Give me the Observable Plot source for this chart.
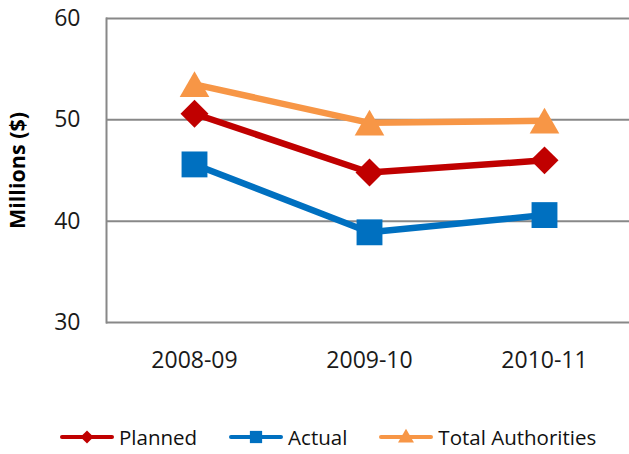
<!DOCTYPE html>
<html>
<head>
<meta charset="utf-8">
<script src="https://cdn.jsdelivr.net/npm/d3@7"></script>
<script src="https://cdn.jsdelivr.net/npm/@observablehq/plot@0.6"></script>
<style>
  html, body { margin: 0; padding: 0; background: #fff; }
  body { width: 629px; height: 454px; overflow: hidden; font-family: "Open Sans", sans-serif; }
  #chart svg { display: block; overflow: visible; }
  .legend { display: flex; align-items: center; padding-left: 60px; margin-top: 28px; height: 28px; }
  .legend .item { display: flex; align-items: center; margin-right: 32px; }
  .legend .item span { font-size: 20.5px; color: #111; margin-left: 5px; line-height: 28px; }
</style>
</head>
<body>
<div id="chart"></div>
<div class="legend" id="legend"></div>
<script>
// Fiscal years on the x axis
const years = ["2008-09", "2009-10", "2010-11"];
// Spending in millions of dollars
const planned = [50.6, 44.8, 46.0];
const actual = [45.6, 38.9, 40.6];
const totalAuthorities = [53.5, 49.7, 49.9];
const yTicks = [30, 40, 50, 60];

const seriesNames = ["Planned", "Actual", "Total Authorities"];
const seriesValues = [planned, actual, totalAuthorities];
const seriesColors = ["#C00000", "#0070C0", "#F79646"];
const seriesSymbols = ["diamond2", "square", "triangle"];
const symbolR = [12.6, 14.6, 11];
const symbolDy = [0, 0, 4];

const rows = seriesNames.flatMap((name, i) =>
  years.map((year, j) => ({series: name, year, value: seriesValues[i][j]})));

const gridColor = "#888888";

const marks = [
  Plot.ruleY(yTicks, {stroke: gridColor, strokeWidth: 2}),
  Plot.frame({anchor: "left", stroke: gridColor, strokeWidth: 2}),
  Plot.axisY({ticks: yTicks, tickSize: 0, tickPadding: 26, fontSize: 23, label: null, fill: "#1a1a1a"}),
  Plot.axisX({tickSize: 0, tickPadding: 29, fontSize: 23, label: null, fill: "#1a1a1a"}),
  Plot.text(["Millions ($)"], {frameAnchor: "left", textAnchor: "middle", dx: -88, rotate: -90, fontSize: 21.5, fontWeight: "bold", fill: "#000"})
];

seriesNames.forEach((name, i) => {
  const data = rows.filter(d => d.series === name);
  marks.push(Plot.line(data, {x: "year", y: "value", stroke: seriesColors[i], strokeWidth: 6.5, strokeLinejoin: "round"}));
  marks.push(Plot.dot(data, {x: "year", y: "value", symbol: seriesSymbols[i], r: symbolR[i], fill: seriesColors[i], stroke: "none", dy: symbolDy[i]}));
});

const chart = Plot.plot({
  width: 629,
  height: 395,
  marginLeft: 106,
  marginRight: -2,
  marginTop: 18,
  marginBottom: 73,
  style: {fontFamily: "Open Sans, sans-serif", background: "#fff", overflow: "visible"},
  x: {type: "point", domain: years, padding: 0.5},
  y: {domain: [30, 60]},
  marks
});
document.getElementById("chart").append(chart);

// Legend: short line with the series marker, then the name
const legend = d3.select("#legend");
seriesNames.forEach((name, i) => {
  const item = legend.append("div").attr("class", "item");
  const svg = item.append("svg").attr("width", 54).attr("height", 20);
  svg.append("line").attr("x1", 2).attr("x2", 52).attr("y1", 10).attr("y2", 10)
    .attr("stroke", seriesColors[i]).attr("stroke-width", 4).attr("stroke-linecap", "round");
  const sym = {diamond2: d3.symbolDiamond2, square: d3.symbolSquare, triangle: d3.symbolTriangle}[seriesSymbols[i]];
  const size = [110, 150, 110][i];
  svg.append("path").attr("d", d3.symbol(sym, size)())
    .attr("transform", `translate(27,${i === 2 ? 11 : 10})`).attr("fill", seriesColors[i]);
  item.append("span").text(name);
});
</script>
</body>
</html>
